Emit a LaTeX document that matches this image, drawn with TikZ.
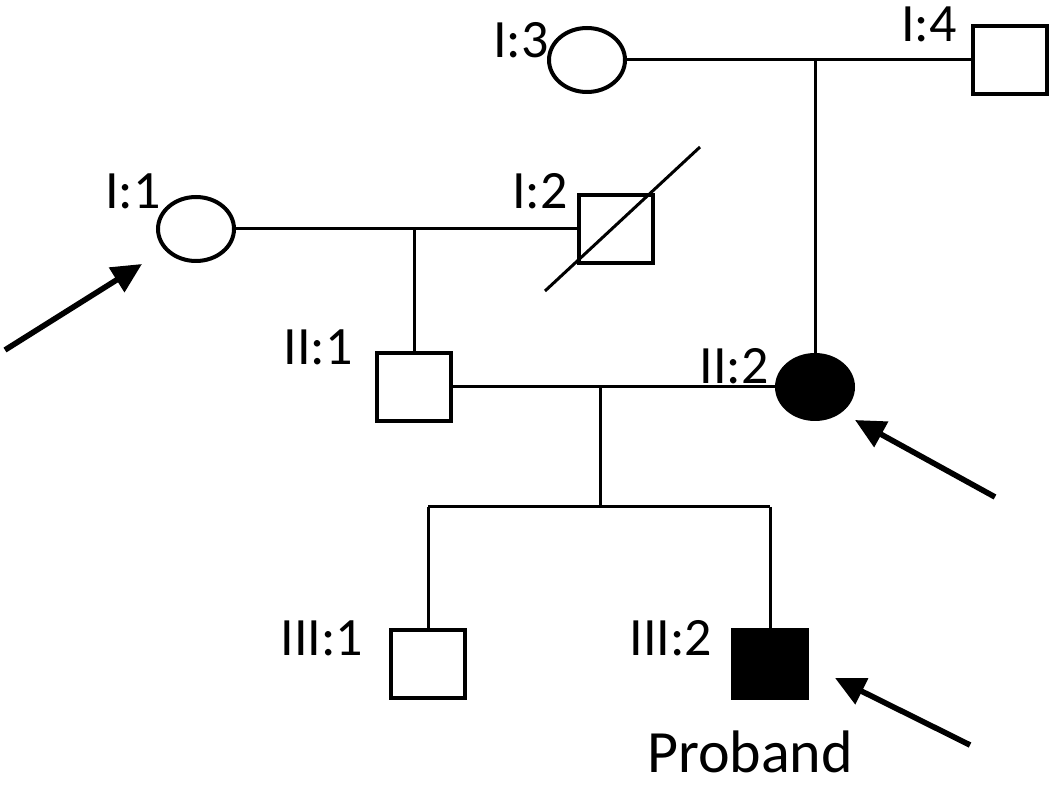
\documentclass[tikz,border=0pt]{standalone}
\usepackage{fontspec}
\setmainfont{Carlito}
\usetikzlibrary{arrows.meta,calc,positioning,shapes.geometric}
\tikzset{
  female/.style={
    ellipse,
    draw=black,
    line width=2pt,
    minimum width=38pt,
    minimum height=32pt,
    inner sep=0pt
  },
  male/.style={
    rectangle,
    draw=black,
    line width=2pt,
    minimum width=37pt,
    minimum height=34pt,
    inner sep=0pt
  },
  affected/.style={
    fill=black
  },
  rel/.style={
    draw=black,
    line width=1.5pt
  },
  pointer/.style={
    -{Triangle[length=15pt,width=14pt]},
    draw=black,
    line width=2.8pt
  },
  tag/.style={
    text=black,
    inner sep=0pt,
    font=\fontsize{27}{32}\selectfont
  }
}

\begin{document}
\begin{tikzpicture}[x=0.5pt,y=-0.5pt]
  \useasboundingbox (0,0) rectangle (1050,790);

  % generation I
  \node[female] (i3) at (587,60) {};
  \node[male] (i4) at (1010,60) {};
  \node[female] (i1) at (196,229) {};
  \node[male] (i2) at (616,229) {};

  % generation II
  \node[male] (ii1) at (414,387) {};
  \node[female, affected] (ii2) at (815,387) {};

  % generation III
  \node[male] (iii1) at (428,664) {};
  \node[male, affected] (iii2) at (770,664) {};

  % labels
  \node[tag] (l-i3) at (521,40) {I:3};
  \node[tag] (l-i4) at (929,24) {I:4};
  \node[tag] (l-i1) at (133,191) {I:1};
  \node[tag] (l-i2) at (540,191) {I:2};
  \node[tag] (l-ii1) at (318,347) {II:1};
  \node[tag] (l-ii2) at (734,366) {II:2};
  \node[tag] (l-iii1) at (322,638) {III:1};
  \node[tag] (l-iii2) at (671,638) {III:2};
  \node[tag, font=\fontsize{30}{36}\selectfont] (proband) at (750,752) {Proband};

  % deceased
  \draw[rel] ($(i2.center)+(-71,62)$) -- ($(i2.center)+(84,-82)$);

  % couples and descent
  \coordinate (u1) at (414,229);
  \coordinate (u2) at (815,60);
  \coordinate (u3) at (600,387);
  \coordinate (sib) at (600,507);

  \draw[rel] (i3) -- (i4);
  \draw[rel] (u2) -- (ii2);
  \draw[rel] (i1) -- (i2);
  \draw[rel] (u1) -- (ii1);
  \draw[rel] (ii1) -- (ii2);
  \draw[rel] (u3) -- (sib);
  \draw[rel] (iii1 |- sib) -- (iii2 |- sib);
  \draw[rel] (iii1 |- sib) -- (iii1);
  \draw[rel] (iii2 |- sib) -- (iii2);

  % arrows
  \coordinate (a1) at (5,350);
  \coordinate (a2) at (995,497);
  \coordinate (a3) at (970,745);
  \draw[pointer] (a1) -- (142,264);
  \draw[pointer] (a2) -- (855,420);
  \draw[pointer] (a3) -- (835,678);
\end{tikzpicture}
\end{document}
